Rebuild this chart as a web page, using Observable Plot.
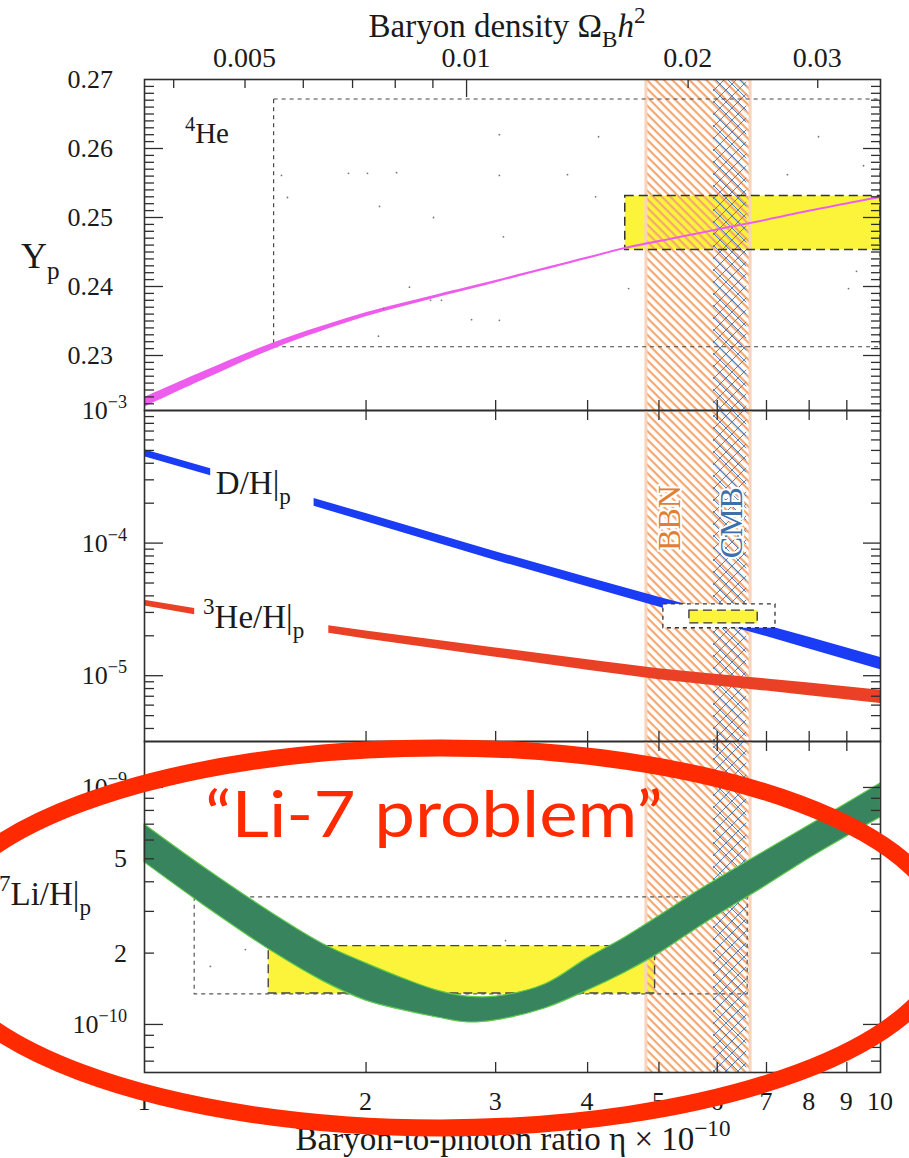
<!DOCTYPE html>
<html>
<head>
<meta charset="utf-8">
<script src="https://cdn.jsdelivr.net/npm/d3@7"></script>
<script src="https://cdn.jsdelivr.net/npm/@observablehq/plot@0.6"></script>
<style>
  html, body { margin: 0; padding: 0; background: #fff; }
  #chart { position: relative; width: 909px; height: 1158px; overflow: hidden; }
  #chart svg { position: absolute; left: 0; overflow: visible; }
</style>
</head>
<body>
<div id="chart"></div>
<script>
// ---------- data (η in units of 10^-10) ----------
const etaTicks = [2, 3, 4, 5, 6, 7, 8, 9];
const etaLabelValues = [1, 2, 3, 4, 5, 6, 7, 8, 9, 10];
const etaLabels = ["1", "2", "3", "4", "5", "6", "7", "8", "9", "10"];

// secondary axis: baryon density, η10 = 273.9 Ω_B h²
const etaPerOmega = 273.9;
const omegaTicks = [0.004, 0.005, 0.006, 0.007, 0.008, 0.009, 0.02, 0.03];
const omegaLongTicks = [0.01];
const omegaLabelValues = [0.005, 0.01, 0.02, 0.03];
const omegaLabels = ["0.005", "0.01", "0.02", "0.03"];

// BBN and CMB ranges of η
const bbnRange = [4.8, 6.65];
const cmbRange = [5.93, 6.58];

// 4He mass fraction Yp
const ypEta = [1, 1.2, 1.5, 2, 2.5, 3, 4, 4.5, 5, 6, 7, 8, 10];
const ypMid = [0.2232, 0.2270, 0.2314, 0.2359, 0.2386, 0.2407, 0.2441, 0.2455, 0.2465, 0.2482, 0.2496, 0.2509, 0.2529];
const ypErr = [0.0007, 0.0006, 0.00045, 0.0003, 0.00022, 0.00018, 0.00016, 0.00015, 0.00015, 0.00015, 0.00015, 0.00015, 0.00015];
const ypObsEta = [4.5, 10];
const ypObs = [0.2453, 0.2531];
const ypWideEta = [1.5, 10];
const ypWide = [0.2312, 0.2671];
const ypMajor = [0.23, 0.24, 0.25, 0.26];
const ypLabelValues = [0.23, 0.24, 0.25, 0.26, 0.27];
const ypLabels = ["0.23", "0.24", "0.25", "0.26", "0.27"];
const ypDotEta = [1.535, 1.564, 1.893, 2.009, 2.200, 2.086, 2.470, 2.291, 2.447, 2.532, 2.112, 2.079, 3.035, 4.139, 3.035, 3.756, 4.101, 3.074, 4.547, 2.782, 3.035, 8.237, 7.474, 9.483, 9.048, 9.277];
const ypDotY = [0.2561, 0.2529, 0.2564, 0.2564, 0.2565, 0.2516, 0.2500, 0.2399, 0.2380, 0.2380, 0.2368, 0.2328, 0.2620, 0.2617, 0.2561, 0.2562, 0.2530, 0.2472, 0.2397, 0.2352, 0.2351, 0.2617, 0.2562, 0.2575, 0.2397, 0.2422];

// D/H (label sits in the gap between 1.23 and 1.70)
const dhEta = [1, 1.23, 1.70, 2, 3, 4, 5, 6, 7, 8, 10];
const dhMid = [4.77e-4, 3.43e-4, 2.03e-4, 1.56e-4, 8.0e-5, 5.1e-5, 3.6e-5, 2.75e-5, 2.18e-5, 1.77e-5, 1.24e-5];
const dhErr = [0.06, 0.062, 0.067, 0.07, 0.075, 0.08, 0.085, 0.09, 0.095, 0.10, 0.105];
const dhBreak = 1.23;
const dhWideEta = [5.07, 7.20];
const dhWide = [2.28e-5, 3.45e-5];
const dhObsEta = [5.50, 6.81];
const dhObs = [2.48e-5, 3.10e-5];

// 3He/H (label sits in the gap between 1.17 and 1.78)
const heEta = [1, 1.17, 1.78, 2, 3, 4, 5, 6, 7, 8, 10];
const heMid = [3.53e-5, 3.05e-5, 2.24e-5, 2.03e-5, 1.50e-5, 1.21e-5, 1.03e-5, 9.3e-6, 8.55e-6, 7.92e-6, 6.98e-6];
const heErr = [0.05, 0.055, 0.065, 0.07, 0.08, 0.09, 0.095, 0.10, 0.105, 0.11, 0.115];
const heBreak = 1.17;
const midAxisValues = [1e-3, 1e-4, 1e-5];
const midAxisExp = ["−3", "−4", "−5"];

// 7Li/H band
const liEta = [1, 1.2, 1.5, 1.75, 2, 2.25, 2.5, 2.75, 3, 3.5, 4, 4.5, 5, 5.5, 6, 7, 8, 9, 10];
const liHi = [6.98e-10, 4.64e-10, 2.91e-10, 2.18e-10, 1.81e-10, 1.56e-10, 1.39e-10, 1.31e-10, 1.31e-10, 1.475e-10, 1.90e-10, 2.33e-10, 2.86e-10, 3.47e-10, 4.09e-10, 5.42e-10, 6.91e-10, 8.56e-10, 1.04e-9];
const liLo = [4.83e-10, 3.21e-10, 2.01e-10, 1.52e-10, 1.26e-10, 1.146e-10, 1.07e-10, 1.02e-10, 1.04e-10, 1.168e-10, 1.39e-10, 1.658e-10, 1.99e-10, 2.42e-10, 2.88e-10, 3.86e-10, 5.02e-10, 6.21e-10, 7.47e-10];
const liObsEta = [1.475, 4.94];
const liObs = [1.35e-10, 2.14e-10];
const liWideEta = [1.17, 6.6];
const liWide = [1.34e-10, 3.44e-10];
const liDotEta = [1.371, 1.229, 3.094];
const liDotY = [2.07e-10, 1.757e-10, 2.26e-10];
const liAxisValues = [1e-9, 5e-10, 2e-10, 1e-10];
const liAxisText = [["10", "−9"], ["5", ""], ["2", ""], ["10", "−10"]];

// ---------- styling ----------
const NS = "http://www.w3.org/2000/svg";
const SERIF = "'Liberation Serif', 'Times New Roman', serif";
const INK = "#2e2e2e";
const W = 736, H = 331;           // frame size of every panel
const RED = "#ff2a00";

const common = {
  width: 909,
  marginLeft: 144,
  marginRight: 29,
  x: {type: "log", domain: [1, 10], axis: null},
  style: {overflow: "visible", background: "transparent", fontFamily: SERIF}
};

// SVG text with superscript / subscript / italic pieces
function richText(items) {
  return (index, scales, values, dims) => {
    const g = document.createElementNS(NS, "g");
    const {width, height, marginLeft, marginRight, marginTop, marginBottom} = dims;
    for (const it of items) {
      const px = (it.x != null ? scales.x(it.x)
        : it.fx === "left" ? marginLeft
        : it.fx === "right" ? width - marginRight
        : (marginLeft + width - marginRight) / 2) + (it.dx || 0);
      const py = (it.y != null ? scales.y(it.y)
        : it.fy === "top" ? marginTop
        : it.fy === "bottom" ? height - marginBottom
        : (marginTop + height - marginBottom) / 2) + (it.dy || 0);
      const t = document.createElementNS(NS, "text");
      t.setAttribute("transform", `translate(${px},${py})` + (it.rotate ? ` rotate(${it.rotate})` : ""));
      t.setAttribute("text-anchor", it.anchor || "start");
      t.setAttribute("font-family", it.font || SERIF);
      t.setAttribute("font-size", it.size);
      t.setAttribute("fill", it.color || "#1a1a1a");
      if (it.halo) {
        t.setAttribute("stroke", "#fff");
        t.setAttribute("stroke-width", it.halo);
        t.setAttribute("paint-order", "stroke");
        t.setAttribute("stroke-linejoin", "round");
      }
      if (it.textLength) {
        t.setAttribute("textLength", it.textLength);
        t.setAttribute("lengthAdjust", "spacingAndGlyphs");
      }
      let shift = 0;
      for (const [str, kind] of it.parts) {
        if (!str) continue;
        const s = document.createElementNS(NS, "tspan");
        const target = kind === "sup" ? -0.42 * it.size : kind === "sub" ? 0.3 * it.size : 0;
        if (target !== shift) s.setAttribute("dy", target - shift);
        shift = target;
        if (kind === "sup" || kind === "sub") s.setAttribute("font-size", it.size * 0.7);
        if (kind === "it") s.setAttribute("font-style", "italic");
        s.textContent = str;
        t.appendChild(s);
      }
      g.appendChild(t);
    }
    return g;
  };
}

// hatch patterns for the BBN and CMB bands
function hatchDefs(suffix) {
  return () => {
    const defs = document.createElementNS(NS, "defs");
    defs.innerHTML =
      `<pattern id="bbn${suffix}" patternUnits="userSpaceOnUse" width="6" height="6" patternTransform="rotate(45)">
         <rect x="0" y="0" width="6" height="2.2" fill="#f3a873"/>
       </pattern>
       <pattern id="cmb${suffix}" patternUnits="userSpaceOnUse" width="12" height="12">
         <path d="M0,0L12,12M12,0L0,12" stroke="#5a82bd" stroke-width="1" fill="none"/>
       </pattern>`;
    return defs;
  };
}

function bands(suffix, yDomain) {
  return [
    hatchDefs(suffix),
    Plot.rect([{x1: bbnRange[0], x2: bbnRange[1], y1: yDomain[0], y2: yDomain[1]}],
      {x1: "x1", x2: "x2", y1: "y1", y2: "y2", fill: `url(#bbn${suffix})`}),
    Plot.rect([{x1: cmbRange[0], x2: cmbRange[1], y1: yDomain[0], y2: yDomain[1]}],
      {x1: "x1", x2: "x2", y1: "y1", y2: "y2", fill: `url(#cmb${suffix})`}),
    Plot.ruleX(bbnRange, {stroke: "#f8d4bd", strokeWidth: 3})
  ];
}

function box(xs, ys, opts) {
  return Plot.rect([{x1: xs[0], x2: xs[1], y1: ys[0], y2: ys[1]}],
    {x1: "x1", x2: "x2", y1: "y1", y2: "y2", ...opts});
}

function logMinor([lo, hi]) {
  const out = [];
  for (let k = Math.floor(Math.log10(lo)); k <= Math.ceil(Math.log10(hi)); k++)
    for (let m = 2; m <= 9; m++) {
      const v = m * 10 ** k;
      if (v > lo * 1.001 && v < hi * 0.999) out.push(v);
    }
  return out;
}

// inward ticks on the four sides of a panel
function frameTicks({yMajor, yMinor, xTop, xBottom}) {
  const s = {stroke: INK, strokeWidth: 1.3};
  const m = [
    Plot.ruleY(yMajor, {...s, insetRight: W - 19}),
    Plot.ruleY(yMinor, {...s, insetRight: W - 10}),
    Plot.ruleY(yMajor, {...s, insetLeft: W - 17}),
    Plot.ruleY(yMinor, {...s, insetLeft: W - 9}),
    Plot.ruleX(xBottom, {...s, insetTop: H - 10})
  ];
  if (xTop) m.push(Plot.ruleX(xTop, {...s, insetBottom: H - 10}));
  return m;
}

const frame = Plot.frame({stroke: INK, strokeWidth: 1.6});
const chart = document.getElementById("chart");
function place(svg, top) { svg.style.top = top + "px"; chart.appendChild(svg); }

// ---------- panel 1: 4He ----------
const ypDomain = [0.22203, 0.27];
const ypBand = ypEta.map((e, i) => ({eta: e, lo: ypMid[i] - ypErr[i], hi: ypMid[i] + ypErr[i]}));
const ypDots = ypDotEta.map((e, i) => ({eta: e, y: ypDotY[i]}));
const ypMinor = d3.range(223, 270).filter(v => v % 10 !== 0).map(v => v / 1000);

const p1 = Plot.plot({
  ...common,
  height: 410, marginTop: 79, marginBottom: 0,
  y: {domain: ypDomain, axis: null},
  marks: [
    box(ypObsEta, ypObs, {fill: "#fcf43a"}),
    ...bands("1", ypDomain),
    box(ypObsEta, ypObs, {fill: "none", stroke: "#333", strokeWidth: 1.5, strokeDasharray: "9,5"}),
    box(ypWideEta, ypWide, {fill: "none", stroke: "#444", strokeWidth: 1.2, strokeDasharray: "4,4"}),
    Plot.areaY(ypBand, {x: "eta", y1: "lo", y2: "hi", fill: "#ee5cee", curve: "catmull-rom"}),
    Plot.dot(ypDots, {x: "eta", y: "y", r: 0.9, fill: "#777"}),
    ...frameTicks({yMajor: ypMajor, yMinor: ypMinor, xBottom: etaTicks}),
    Plot.ruleX(omegaTicks.map(o => o * etaPerOmega), {stroke: INK, strokeWidth: 1.3, insetBottom: H - 9}),
    Plot.ruleX(omegaLongTicks.map(o => o * etaPerOmega), {stroke: INK, strokeWidth: 1.3, insetBottom: H - 18}),
    frame,
    richText([
      {fx: "center", fy: "top", dx: -5, dy: -42, anchor: "middle", size: 33,
        parts: [["Baryon density ", ""], ["Ω", ""], ["B", "sub"], ["h", "it"], ["2", "sup"]]},
      ...omegaLabelValues.map((o, i) => ({x: o * etaPerOmega, fy: "top", dy: -12, anchor: "middle", size: 28, parts: [[omegaLabels[i], ""]]})),
      ...ypLabelValues.map((v, i) => ({fx: "left", y: v, dx: -31, dy: 9, anchor: "end", size: 26, parts: [[ypLabels[i], ""]]})),
      {fx: "left", y: 0.2426, dx: -123, anchor: "start", size: 36, parts: [["Y", ""], ["p", "sub"]]},
      {x: 1.137, y: 0.2607, anchor: "start", size: 29, parts: [["4", "sup"], ["He", ""]]}
    ])
  ]
});
place(p1, 0);

// ---------- panel 2: D/H and 3He/H ----------
const midDomain = [3.19e-6, 1e-3];
const dhBand = dhEta.map((e, i) => ({eta: e, lo: dhMid[i] * (1 - dhErr[i]), hi: dhMid[i] * (1 + dhErr[i]), seg: e <= dhBreak ? 0 : 1}));
const heBand = heEta.map((e, i) => ({eta: e, lo: heMid[i] * (1 - heErr[i]), hi: heMid[i] * (1 + heErr[i]), seg: e <= heBreak ? 0 : 1}));

const p2 = Plot.plot({
  ...common,
  height: 331, marginTop: 0, marginBottom: 0,
  y: {type: "log", domain: midDomain, axis: null},
  marks: [
    ...bands("2", midDomain),
    Plot.areaY(dhBand, {x: "eta", y1: "lo", y2: "hi", z: "seg", fill: "#1a3cf5"}),
    Plot.areaY(heBand, {x: "eta", y1: "lo", y2: "hi", z: "seg", fill: "#ea4126"}),
    box(dhWideEta, dhWide, {fill: "#fff", stroke: "#333", strokeWidth: 1.3, strokeDasharray: "4,4"}),
    box(dhObsEta, dhObs, {fill: "#fcf43a", stroke: "#333", strokeWidth: 1.3, strokeDasharray: "9,5"}),
    ...frameTicks({yMajor: [1e-4, 1e-5], yMinor: logMinor(midDomain), xBottom: etaTicks, xTop: etaTicks}),
    frame,
    richText([
      ...midAxisValues.map((v, i) => ({fx: "left", y: v, dx: -17, dy: 9, anchor: "end", size: 26, parts: [["10", ""], [midAxisExp[i], "sup"]]})),
      {x: 1.252, y: 2.33e-4, anchor: "start", size: 33, parts: [["D/H|", ""], ["p", "sub"]]},
      {x: 1.203, y: 2.28e-5, anchor: "start", size: 33, parts: [["3", "sup"], ["He/H|", ""], ["p", "sub"]]},
      {x: 5.35, y: 1.535e-4, rotate: -90, anchor: "middle", size: 32, color: "#e27d36", halo: 4, parts: [["BBN", ""]]},
      {x: 6.49, y: 1.415e-4, rotate: -90, anchor: "middle", size: 32, color: "#3e6fa8", halo: 4, parts: [["CMB", ""]]}
    ])
  ]
});
place(p2, 410);

// ---------- panel 3: 7Li/H ----------
const liDomain = [6.27e-11, 1.563e-9];
const liBand = liEta.map((e, i) => ({eta: e, lo: liLo[i], hi: liHi[i]}));
const liDots = liDotEta.map((e, i) => ({eta: e, y: liDotY[i]}));

// annotation ring around the lithium panel
const ring = {eta: 2.524, li: 2.307e-10, rx: 508, ry: 190};
const ringMark = (index, scales) => {
  const e = document.createElementNS(NS, "ellipse");
  e.setAttribute("cx", scales.x(ring.eta));
  e.setAttribute("cy", scales.y(ring.li));
  e.setAttribute("rx", ring.rx);
  e.setAttribute("ry", ring.ry);
  e.setAttribute("fill", "none");
  e.setAttribute("stroke", RED);
  e.setAttribute("stroke-width", 17);
  return e;
};

const p3 = Plot.plot({
  ...common,
  height: 417, marginTop: 0, marginBottom: 86,
  y: {type: "log", domain: liDomain, axis: null},
  marks: [
    box(liObsEta, liObs, {fill: "#fcf43a"}),
    ...bands("3", liDomain),
    box(liObsEta, liObs, {fill: "none", stroke: "#444", strokeWidth: 1.4, strokeDasharray: "9,5"}),
    box(liWideEta, liWide, {fill: "none", stroke: "#555", strokeWidth: 1.2, strokeDasharray: "4,4"}),
    Plot.areaY(liBand, {x: "eta", y1: "lo", y2: "hi", fill: "#38845e", stroke: "#5cc94a", strokeWidth: 1.2, curve: "catmull-rom"}),
    Plot.dot(liDots, {x: "eta", y: "y", r: 0.9, fill: "#777"}),
    ...frameTicks({yMajor: [1e-9, 1e-10], yMinor: logMinor(liDomain), xBottom: etaTicks, xTop: etaTicks}),
    frame,
    richText([
      ...liAxisValues.map((v, i) => ({fx: "left", y: v, dx: -17, dy: 9, anchor: "end", size: 26, parts: [[liAxisText[i][0], ""], [liAxisText[i][1], "sup"]]})),
      {fx: "left", y: 3.18e-10, dx: -53, anchor: "end", size: 33, parts: [["7", "sup"], ["Li/H|", ""], ["p", "sub"]]},
      ...etaLabelValues.map((v, i) => ({x: v, fy: "bottom", dy: 38, anchor: "middle", size: 26, parts: [[etaLabels[i], ""]]})),
      {fx: "center", fy: "bottom", dx: 1, dy: 78, anchor: "middle", size: 33,
        parts: [["Baryon-to-photon ratio η × 10", ""], ["−10", "sup"]]}
    ]),
    ringMark,
    richText([
      {x: 2.477, y: 6.15e-10, anchor: "middle", size: 64, font: "Lato, 'DejaVu Sans', sans-serif", color: RED,
        textLength: 458, parts: [["“Li-7 problem”", ""]]}
    ])
  ]
});
place(p3, 741);
</script>
</body>
</html>
